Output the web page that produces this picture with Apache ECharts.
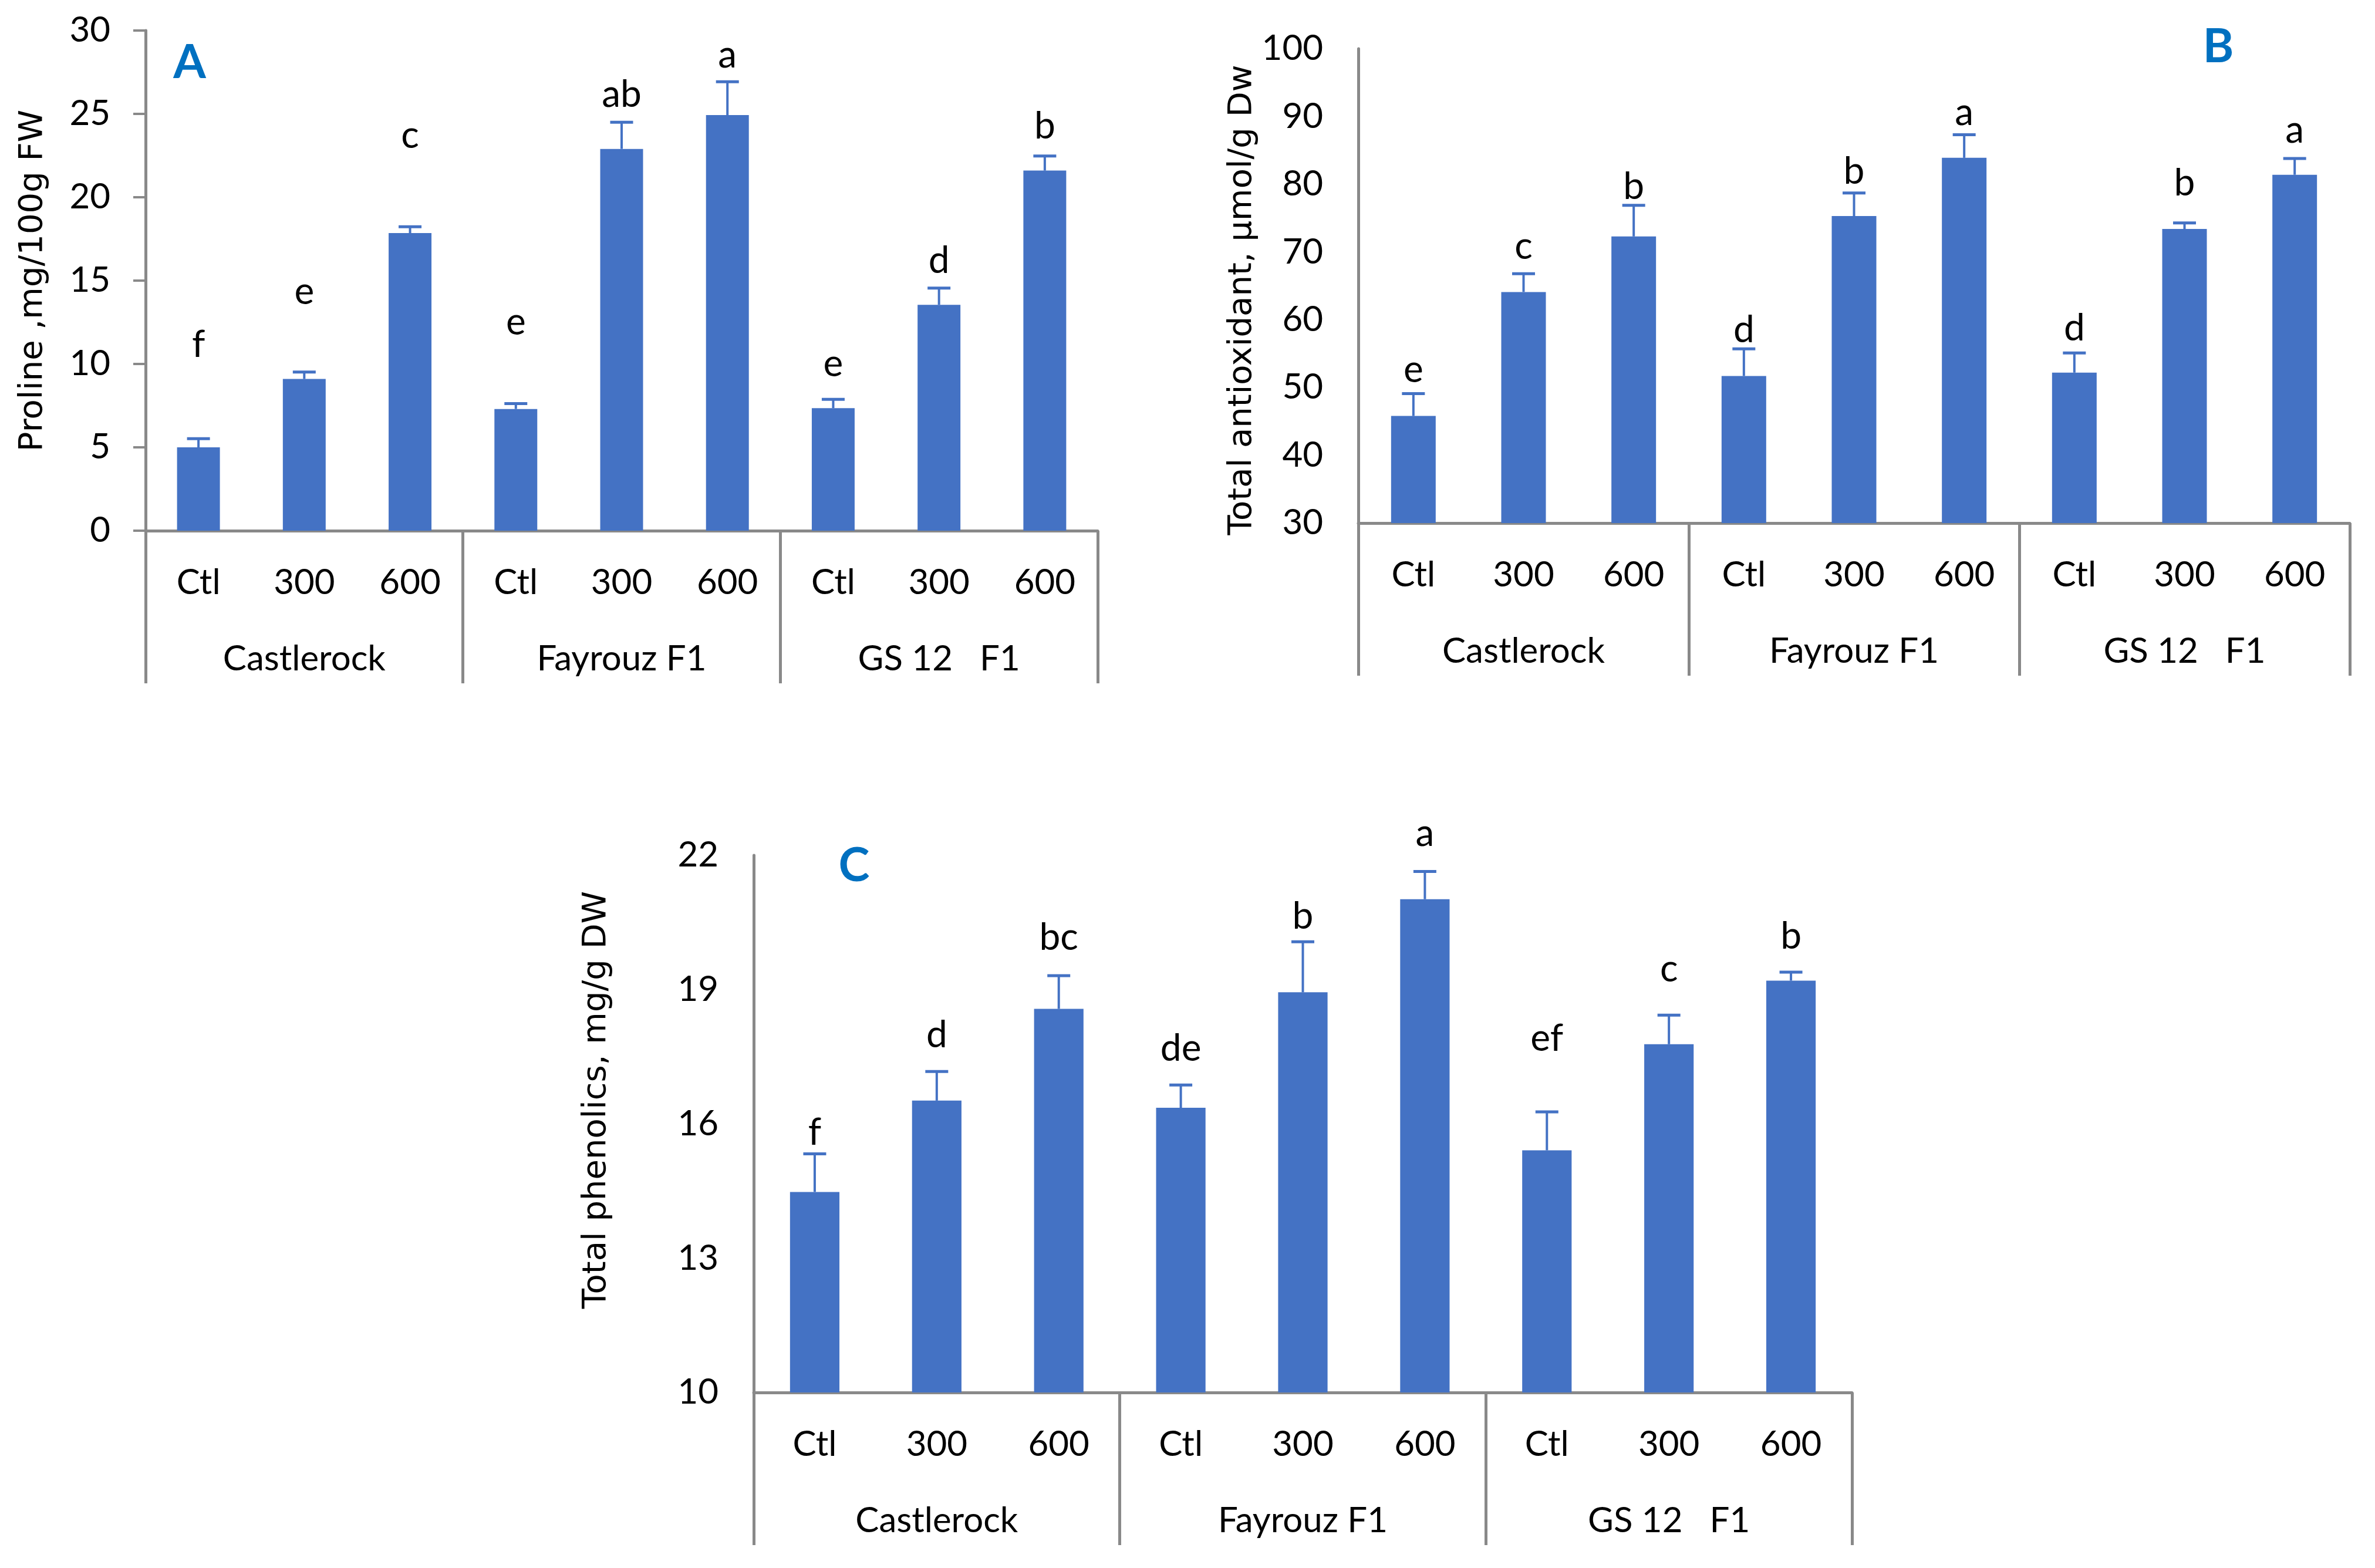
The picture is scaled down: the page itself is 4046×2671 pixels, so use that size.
<!DOCTYPE html>
<html>
<head>
<meta charset="utf-8">
<script src="https://cdn.jsdelivr.net/npm/echarts@6/dist/echarts.min.js"></script>
<style>
html,body{margin:0;padding:0;background:#fff;}
#chart{width:4046px;height:2671px;}
</style>
</head>
<body>
<div id="chart"></div>
<script>
// ---- data ----
const categories = ['Ctl','300','600','Ctl','300','600','Ctl','300','600'];
const groups = ['Castlerock','Fayrouz F1','GS 12   F1'];

const prolineMean = [5.0, 9.1, 17.85, 7.3, 22.9, 24.93, 7.35, 13.55, 21.6];
const prolineSE   = [0.52, 0.42, 0.38, 0.32, 1.6, 2.0, 0.53, 1.0, 0.87];
const prolineLetters = ['f','e','c','e','ab','a','e','d','b'];
const prolineLetterY = [10.44, 13.59, 22.95, 11.78, 25.42, 27.78, 9.28, 15.47, 23.54];
const prolineTicks = [0, 5, 10, 15, 20, 25, 30];

const antioxMean = [45.8, 64.1, 72.3, 51.7, 75.3, 83.9, 52.2, 73.4, 81.4];
const antioxSE   = [3.3, 2.7, 4.6, 4.0, 3.4, 3.4, 2.9, 0.9, 2.4];
const antioxLetters = ['e','c','b','d','b','a','d','b','a'];
const antioxLetterY = [50.77, 69.0, 77.84, 56.74, 80.1, 88.72, 56.94, 78.35, 86.15];
const antioxTicks = [30, 40, 50, 60, 70, 80, 90, 100];

const phenMean = [14.48, 16.52, 18.57, 16.36, 18.94, 21.02, 15.41, 17.78, 19.20];
const phenSE   = [0.85, 0.65, 0.74, 0.51, 1.13, 0.62, 0.86, 0.65, 0.19];
const phenLetters = ['f','d','bc','de','b','a','ef','c','b'];
const phenLetterY = [15.54, 17.71, 19.89, 17.41, 20.36, 22.21, 17.64, 19.18, 19.92];
const phenTicks = [10, 13, 16, 19, 22];

// ---- styles ----
const BAR = '#4472C4';
const AXIS = '#898989';
const LABEL_FONT = 'Lato';
const TITLE_FONT = 'DejaVu Sans';
const LETTER_FS = 64;

const panels = [
  {grid:{left:248, top:52, width:1622, height:852}, mean:prolineMean, se:prolineSE, letters:prolineLetters, letterY:prolineLetterY, ticks:prolineTicks,
   name:'Proline ,mg/100g FW', nameGap:164, namePad:[0,0,0,0], ytick:true, tag:'A', tagPos:[323,107]},
  {grid:{left:2314, top:83, width:1689, height:808}, mean:antioxMean, se:antioxSE, letters:antioxLetters, letterY:antioxLetterY, ticks:antioxTicks,
   name:'Total antioxidant, µmol/g Dw', nameGap:170, namePad:[0,48,0,0], ytick:false, tag:'B', tagPos:[3779,80]},
  {grid:{left:1284, top:1457, width:1871, height:915}, mean:phenMean, se:phenSE, letters:phenLetters, letterY:phenLetterY, ticks:phenTicks,
   name:'Total phenolics, mg/g DW', nameGap:240, namePad:[0,0,0,82], ytick:false, tag:'C', tagPos:[1455,1475]}
];

const option = {
  animation:false,
  backgroundColor:'#fff',
  textStyle:{fontFamily:LABEL_FONT},
  grid:[], xAxis:[], yAxis:[], series:[], graphic:[]
};

panels.forEach((p, k) => {
  option.grid.push(Object.assign({containLabel:false}, p.grid));
  // category axis
  option.xAxis.push({
    type:'category', gridIndex:k, data:categories, position:'bottom',
    axisLine:{show:true, lineStyle:{color:AXIS, width:5}},
    axisTick:{show:false},
    axisLabel:{interval:0, margin:59, fontSize:60, color:'#000', fontFamily:LABEL_FONT},
    splitLine:{show:false}
  });
  // group axis (separators + group labels)
  option.xAxis.push({
    type:'category', gridIndex:k, data:groups, position:'bottom',
    axisLine:{show:false},
    axisTick:{show:true, inside:false, length:260, alignWithLabel:false, interval:0, lineStyle:{color:AXIS, width:5}},
    axisLabel:{interval:0, margin:189, fontSize:60, color:'#000', fontFamily:LABEL_FONT},
    splitLine:{show:false}
  });
  const t = p.ticks;
  option.yAxis.push({
    type:'value', gridIndex:k, min:t[0], max:t[t.length-1],
    interval: (t[1]-t[0]),
    name:p.name, nameLocation:'middle', nameGap:p.nameGap, nameRotate:90,
    nameTextStyle:{fontFamily:TITLE_FONT, fontSize:56, color:'#000', padding:p.namePad},
    axisLine:{show:true, lineStyle:{color:AXIS, width:5}},
    axisTick:{show:p.ytick, length:21, lineStyle:{color:AXIS, width:4}},
    axisLabel:{margin:60, fontSize:60, color:'#000', fontFamily:LABEL_FONT},
    splitLine:{show:false}
  });
  option.series.push({
    type:'bar', xAxisIndex:2*k, yAxisIndex:k, data:p.mean, barWidth:'40.5%',
    itemStyle:{color:BAR}, z:2
  });
  option.series.push({
    type:'custom', xAxisIndex:2*k, yAxisIndex:k, z:3,
    data:p.mean.map((m,i)=>[i, m, m + p.se[i]]),
    encode:{x:0, y:[1,2]},
    renderItem:function(params, api){
      const i = api.value(0);
      const p0 = api.coord([i, api.value(1)]);
      const p1 = api.coord([i, api.value(2)]);
      const hw = 19.5;
      return {type:'group', children:[
        {type:'line', shape:{x1:p0[0], y1:p0[1], x2:p1[0], y2:p1[1]}, style:{stroke:BAR, lineWidth:4}},
        {type:'line', shape:{x1:p1[0]-hw, y1:p1[1], x2:p1[0]+hw, y2:p1[1]}, style:{stroke:BAR, lineWidth:5}}
      ]};
    }
  });
  option.series.push({
    type:'custom', xAxisIndex:2*k, yAxisIndex:k, z:4,
    data:p.letterY.map((y,i)=>[i, y]),
    encode:{x:0, y:1},
    renderItem:function(params, api){
      const c = api.coord([api.value(0), api.value(1)]);
      return {type:'text', x:c[0], y:c[1] - 0.32*LETTER_FS,
        style:{text:p.letters[params.dataIndex], fontSize:LETTER_FS, fontFamily:LABEL_FONT, fill:'#000', align:'center', verticalAlign:'middle'}};
    }
  });
  option.graphic.push({
    type:'text', x:p.tagPos[0], y:p.tagPos[1],
    style:{text:p.tag, fontSize:80, fontWeight:'bold', fontFamily:LABEL_FONT, fill:'#0070C0', align:'center', verticalAlign:'middle'}
  });
});
// custom tick values for panel C (10,13,16,19,22)
option.yAxis[2].interval = undefined;
option.yAxis[2].axisLabel.customValues = phenTicks;
option.yAxis[2].axisTick.customValues = phenTicks;

const chart = echarts.init(document.getElementById('chart'), null, {renderer:'canvas', width:4046, height:2671});
chart.setOption(option);
</script>
</body>
</html>
